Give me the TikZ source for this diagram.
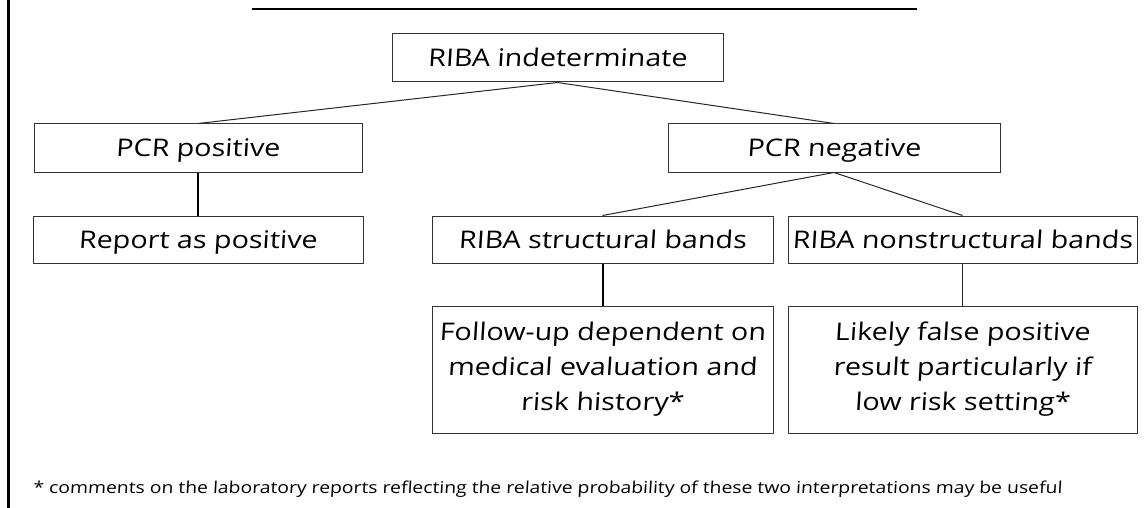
\documentclass[tikz,border=0pt]{standalone}
\usepackage{fontspec}
\setmainfont{Open Sans}[FakeStretch=1.18, FakeSlant=0.06]
\newcommand{\boxfont}{\fontsize{24.3}{35}\selectfont}
\newcommand{\notefont}{\fontsize{16.4}{20}\selectfont}
\tikzset{
  flowbox/.style={draw=black!80, line width=1pt, align=center, inner sep=0pt, font=\boxfont},
  oneline/.style={flowbox, text height=17.5pt, text depth=0pt},
  thinlink/.style={line width=1pt, black!85},
  thicklink/.style={line width=2pt, black},
  frameline/.style={line width=2.5pt, black}
}
\begin{document}
\begin{tikzpicture}[x=1pt,y=-1pt]
\useasboundingbox (0,0) rectangle (1145,508);
\coordinate (ltop) at (8.5,0);
\coordinate (lbot) at (8.5,508);
\coordinate (hl) at (252,9);
\coordinate (hr) at (917,9);
\draw[frameline] (ltop) -- (lbot);
\draw[line width=2pt] (hl) -- (hr);

\node[oneline, minimum width=331pt, minimum height=48pt] (ind) at (557.5,58) {RIBA indeterminate};
\node[oneline, minimum width=328pt, minimum height=48pt] (pos) at (198,148) {PCR positive};
\node[oneline, minimum width=330pt, minimum height=47pt] (rep) at (198,239.5) {Report as positive};
\node[oneline, minimum width=332pt, minimum height=48pt] (neg) at (834,148) {PCR negative};
\node[oneline, minimum width=341pt, minimum height=47pt] (str) at (602.5,239.5) {RIBA structural bands};
\node[oneline, minimum width=349pt, minimum height=47pt] (nst) at (962.5,239.5) {RIBA nonstructural bands};
\node[flowbox, minimum width=341pt, minimum height=127pt] (fol) at (602.5,369.5) {Follow-up dependent on\\medical evaluation and\\risk history*};
\node[flowbox, minimum width=349pt, minimum height=127pt] (lik) at (962.5,369.5) {Likely false positive\\result particularly if\\low risk setting*};

\draw[thinlink] (ind.south) -- (pos.north);
\draw[thinlink] (ind.south) -- (neg.north);
\draw[thicklink] (pos.south) -- (rep.north);
\draw[thinlink] (neg.south) -- (str.north);
\draw[thinlink] (neg.south) -- (nst.north);
\draw[thicklink] (str.south) -- (fol.north);
\draw[thinlink] (nst.south) -- (lik.north);

\node[anchor=base west, inner sep=0pt, font=\notefont] (note) at (33,493) {* comments on the laboratory reports reflecting the relative probability of these two interpretations may be useful};
\end{tikzpicture}
\end{document}
